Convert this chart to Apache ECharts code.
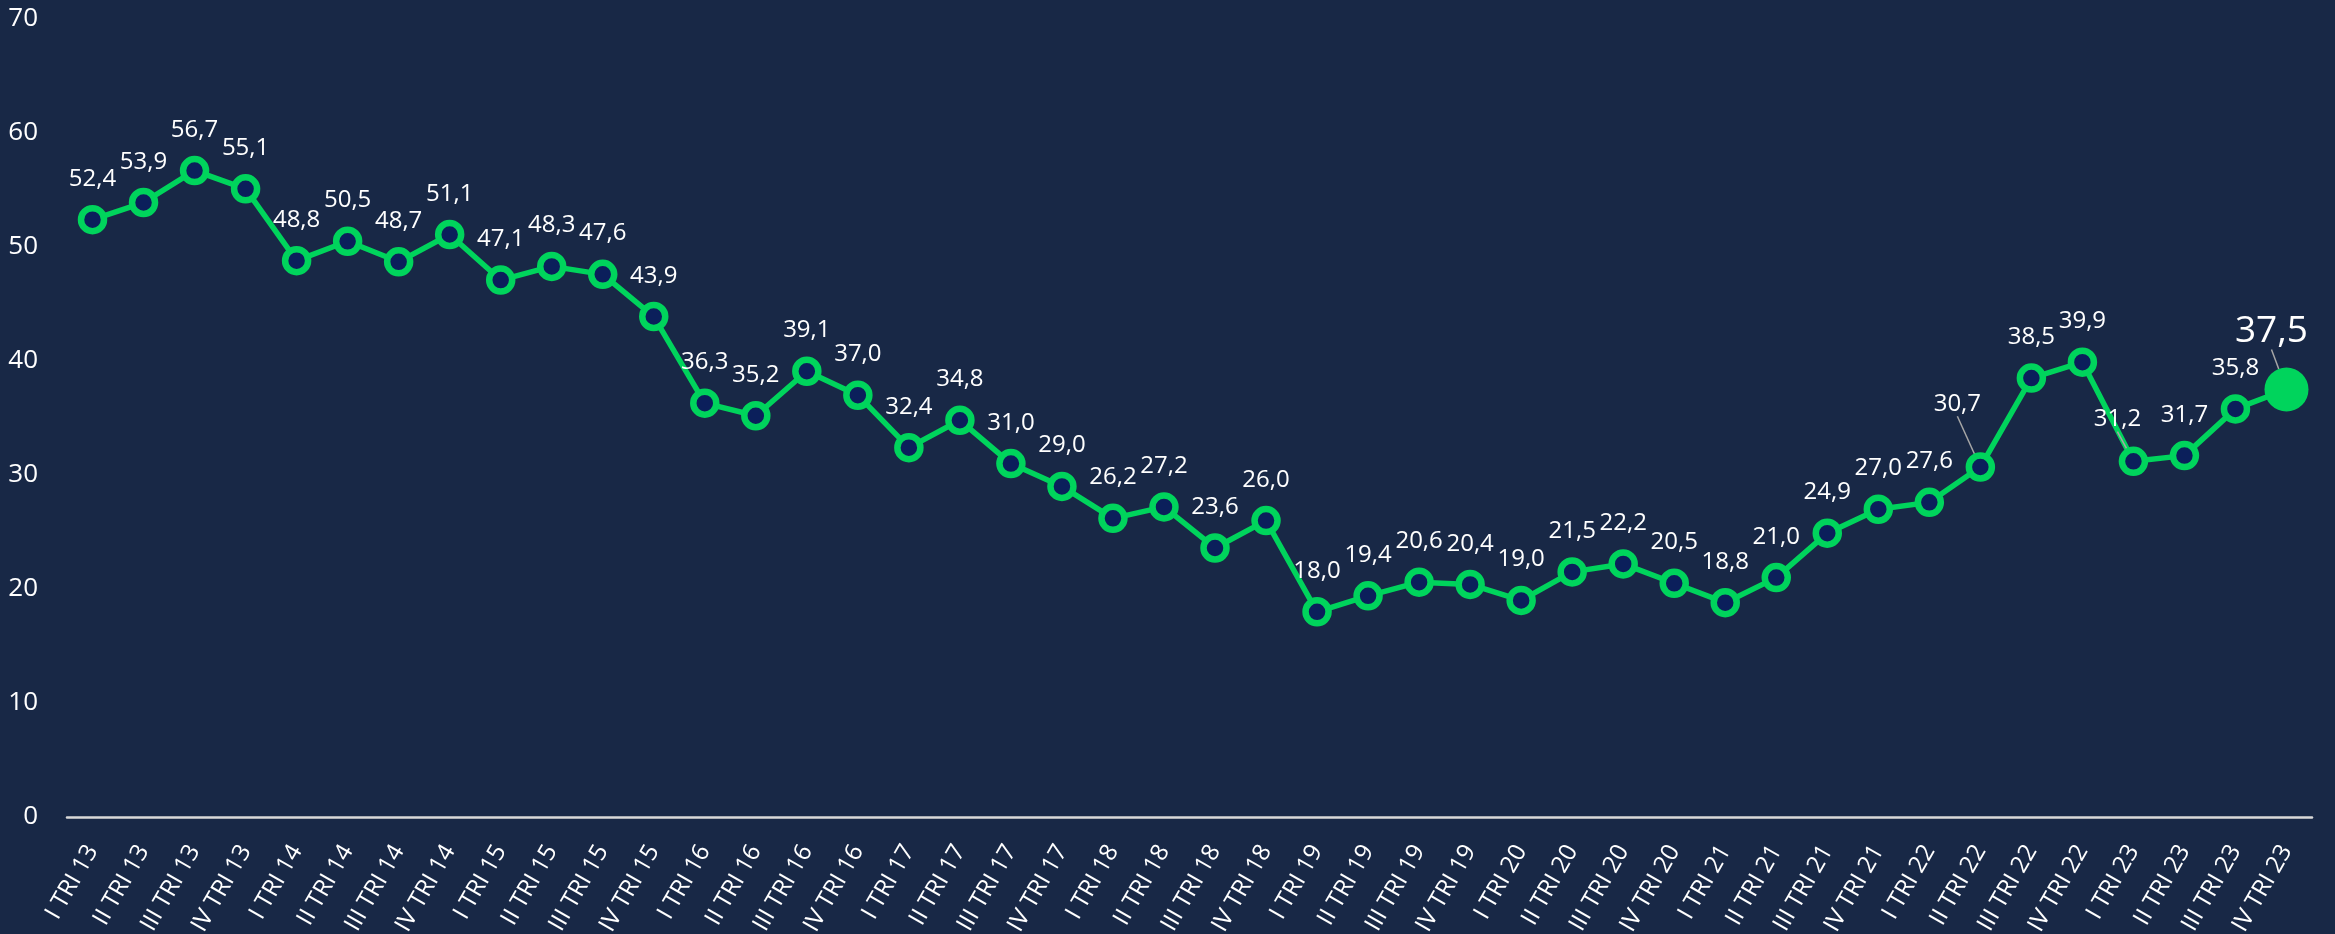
<!DOCTYPE html>
<html>
<head>
<meta charset="utf-8">
<script src="https://cdn.jsdelivr.net/npm/echarts@6/dist/echarts.min.js"></script>
<style>
  html, body { margin: 0; padding: 0; background: #182846; }
  #chart { width: 2335px; height: 934px; }
</style>
</head>
<body>
<div id="chart"></div>
<script>
// trimestri
var categories = [
  'I TRI 13', 'II TRI 13', 'III TRI 13', 'IV TRI 13',
  'I TRI 14', 'II TRI 14', 'III TRI 14', 'IV TRI 14',
  'I TRI 15', 'II TRI 15', 'III TRI 15', 'IV TRI 15',
  'I TRI 16', 'II TRI 16', 'III TRI 16', 'IV TRI 16',
  'I TRI 17', 'II TRI 17', 'III TRI 17', 'IV TRI 17',
  'I TRI 18', 'II TRI 18', 'III TRI 18', 'IV TRI 18',
  'I TRI 19', 'II TRI 19', 'III TRI 19', 'IV TRI 19',
  'I TRI 20', 'II TRI 20', 'III TRI 20', 'IV TRI 20',
  'I TRI 21', 'II TRI 21', 'III TRI 21', 'IV TRI 21',
  'I TRI 22', 'II TRI 22', 'III TRI 22', 'IV TRI 22',
  'I TRI 23', 'II TRI 23', 'III TRI 23', 'IV TRI 23'
];

var values = [
  52.4, 53.9, 56.7, 55.1,
  48.8, 50.5, 48.7, 51.1,
  47.1, 48.3, 47.6, 43.9,
  36.3, 35.2, 39.1, 37.0,
  32.4, 34.8, 31.0, 29.0,
  26.2, 27.2, 23.6, 26.0,
  18.0, 19.4, 20.6, 20.4,
  19.0, 21.5, 22.2, 20.5,
  18.8, 21.0, 24.9, 27.0,
  27.6, 30.7, 38.5, 39.9,
  31.2, 31.7, 35.8, 37.5
];

var yTicks = [0, 10, 20, 30, 40, 50, 60, 70];

var green = '#00d45c';
var navy = '#0b1f5b';
var lastIdx = values.length - 1;

// etichette spostate (con linea di richiamo)
var movedLabels = {
  37: [-23, -22],
  40: [-16, -1],
  43: [-15, -4]
};

var chart = echarts.init(document.getElementById('chart'));

var seriesData = values.map(function (v, i) {
  var item = { value: v };
  if (movedLabels[i]) {
    item.labelLine = { show: true, lineStyle: { color: '#a6a6a6', width: 1.5 } };
  }
  if (i === lastIdx) {
    item.symbolSize = 44;
    item.itemStyle = { color: green, borderWidth: 0 };
    item.label = { fontSize: 37 };
  }
  return item;
});

var option = {
  backgroundColor: '#182846',
  animation: false,
  textStyle: { fontFamily: 'Open Sans' },
  grid: {
    left: 67,
    right: 23,
    top: 19,
    bottom: 117,
    containLabel: false,
    outerBoundsMode: 'none'
  },
  xAxis: {
    type: 'category',
    data: categories,
    boundaryGap: true,
    axisTick: { show: false },
    axisLine: { lineStyle: { color: '#d9d9d9', width: 2.5 } },
    axisLabel: {
      interval: 0,
      rotate: 60,
      margin: 30,
      color: '#ffffff',
      fontSize: 24,
      fontFamily: 'Open Sans'
    },
    splitLine: { show: false }
  },
  yAxis: {
    type: 'value',
    min: yTicks[0],
    max: yTicks[yTicks.length - 1],
    interval: 10,
    axisLine: { show: false },
    axisTick: { show: false },
    splitLine: { show: false },
    axisLabel: {
      margin: 29,
      color: '#ffffff',
      fontSize: 26,
      fontFamily: 'Open Sans'
    }
  },
  series: [
    {
      type: 'line',
      data: seriesData,
      symbol: 'circle',
      symbolSize: 23,
      showAllSymbol: true,
      lineStyle: { color: green, width: 5.5 },
      itemStyle: { color: navy, borderColor: green, borderWidth: 6.5 },
      label: {
        show: true,
        position: 'top',
        distance: 14,
        color: '#ffffff',
        fontSize: 24,
        fontFamily: 'Open Sans',
        formatter: function (p) {
          return p.value.toFixed(1).replace('.', ',');
        }
      },
      labelLayout: function (params) {
        var d = movedLabels[params.dataIndex];
        if (d) {
          return { dx: d[0], dy: d[1] };
        }
        return {};
      },
      z: 3
    }
  ]
};

chart.setOption(option);
</script>
</body>
</html>
